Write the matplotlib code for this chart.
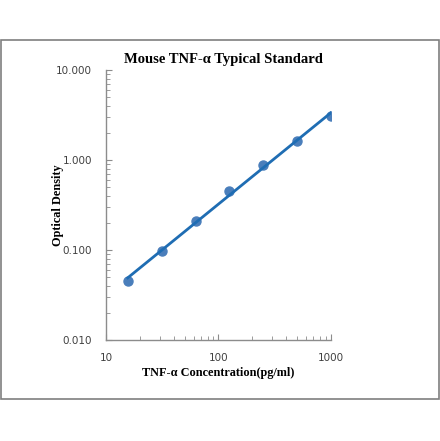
import numpy as np
import matplotlib
matplotlib.use("Agg")
import matplotlib.pyplot as plt
from matplotlib.patches import Rectangle
from matplotlib.ticker import FixedLocator, LogLocator, NullFormatter, FuncFormatter

# ===================== DATOS =====================
conc = [15.6, 31.25, 62.5, 125, 250, 500, 1000]
od = [0.045, 0.098, 0.212, 0.449, 0.873, 1.61, 3.10]

x_ticks = [10, 100, 1000]
y_ticks = [0.01, 0.1, 1, 10]

title = "Mouse TNF-α Typical Standard"
xlabel = "TNF-α Concentration(pg/ml)"
ylabel = "Optical Density"

# ajuste potencial (línea de tendencia)
b, a = np.polyfit(np.log10(conc), np.log10(od), 1)
x_fit = np.array([conc[0], conc[-1]])
y_fit = 10 ** (a + b * np.log10(x_fit))

# ===================== GRÁFICO =====================
fig = plt.figure(figsize=(4.4, 4.41), dpi=100)
ax = fig.add_axes([0.241, 0.229, 0.511, 0.612])

serif = ["Liberation Serif", "DejaVu Serif"]
spine_col = "#8c8c8c"

# marco exterior
fig.patches.append(Rectangle((0.002, 0.095), 0.995, 0.814, transform=fig.transFigure,
                             fill=False, edgecolor="#7f7f7f", linewidth=1.2))

ax.plot(conc, od, "o", color="#4a7ebb", markersize=6.5, zorder=2)
ax.plot(x_fit, y_fit, "-", color="#1f6db3", linewidth=2, zorder=3)

ax.set_xscale("log")
ax.set_yscale("log")
ax.set_xlim(10, 1000)
ax.set_ylim(0.01, 10)

ax.xaxis.set_major_locator(FixedLocator(x_ticks))
ax.yaxis.set_major_locator(FixedLocator(y_ticks))
ax.xaxis.set_minor_locator(LogLocator(base=10, subs=np.arange(2, 10)))
ax.yaxis.set_minor_locator(LogLocator(base=10, subs=np.arange(2, 10)))
ax.xaxis.set_minor_formatter(NullFormatter())
ax.yaxis.set_minor_formatter(NullFormatter())
ax.xaxis.set_major_formatter(FuncFormatter(lambda v, p: f"{v:g}"))
ax.yaxis.set_major_formatter(FuncFormatter(lambda v, p: f"{v:.3f}"))

for s in ["top", "right"]:
    ax.spines[s].set_visible(False)
for s in ["left", "bottom"]:
    ax.spines[s].set_color(spine_col)
    ax.spines[s].set_linewidth(1.0)

ax.tick_params(which="major", direction="in", length=4, color=spine_col,
               labelsize=7.5, labelcolor="#404040")
ax.tick_params(which="minor", direction="in", length=3, color=spine_col)
ax.tick_params(axis="y", which="major", pad=10)
ax.tick_params(axis="x", which="major", pad=9)

ax.set_title(title, fontsize=10.5, fontweight="bold", family=serif, pad=5, x=0.52)
ax.set_xlabel(xlabel, fontsize=8.8, fontweight="bold", family=serif, labelpad=3)
ax.set_ylabel(ylabel, fontsize=8.8, fontweight="bold", family=serif, labelpad=-5.5)

fig.savefig("out.png", dpi=100)
